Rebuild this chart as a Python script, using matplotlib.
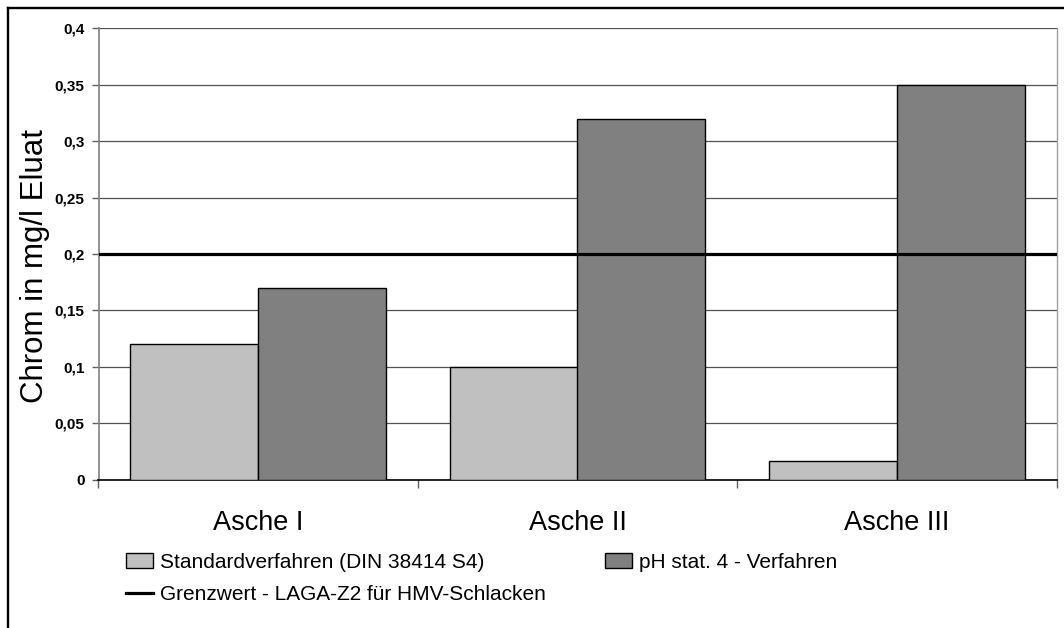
import matplotlib
matplotlib.use("Agg")
import matplotlib.pyplot as plt
from matplotlib.lines import Line2D
import numpy as np

plt.rcParams['font.family'] = ['Liberation Sans', 'DejaVu Sans']

categories = ["Asche I", "Asche II", "Asche III"]
standard = [0.12, 0.10, 0.016]
phstat = [0.17, 0.32, 0.35]
grenzwert = 0.2
yticks = [0, 0.05, 0.1, 0.15, 0.2, 0.25, 0.3, 0.35, 0.4]
ytick_labels = ["0", "0,05", "0,1", "0,15", "0,2", "0,25", "0,3", "0,35", "0,4"]
label_standard = "Standardverfahren (DIN 38414 S4)"
label_ph = "pH stat. 4 - Verfahren"
label_grenz = "Grenzwert - LAGA-Z2 für HMV-Schlacken"
ylabel = "Chrom in mg/l Eluat"

W, H = 1064, 628
fig = plt.figure(figsize=(W / 100, H / 100), dpi=100)
ax = fig.add_axes([98.5 / W, 1 - 479.5 / H, (1056.5 - 98.5) / W, (479.5 - 28.3) / H])

x = np.arange(len(categories))
bw = 0.4
b1 = ax.bar(x - bw / 2, standard, bw, color='#C0C0C0', edgecolor='black', linewidth=1.0, zorder=3,
            label=label_standard)
b2 = ax.bar(x + bw / 2, phstat, bw, color='#808080', edgecolor='black', linewidth=1.0, zorder=3,
            label=label_ph)
gl = ax.axhline(grenzwert, color='black', linewidth=2.3, zorder=4, label=label_grenz)

ax.set_xlim(-0.5, len(categories) - 0.5)
ax.set_ylim(0, 0.4)
ax.set_yticks(yticks)
ax.set_yticklabels(ytick_labels, fontweight='bold', fontsize=11)
ax.yaxis.grid(True, color='#505050', linewidth=0.9, zorder=0)
ax.set_axisbelow(True)

ax.set_xticks(x)
ax.set_xticklabels(categories, fontsize=19.5)
ax.set_xticks(np.arange(-0.5, len(categories)), minor=True)
ax.tick_params(axis='x', which='major', length=0, pad=22)
ax.tick_params(axis='x', which='minor', length=6, width=1, color='#606060')
ax.tick_params(axis='y', length=5, width=1, color='#606060', pad=5)

ax.spines['top'].set_visible(False)
ax.spines['left'].set_color('#808080')
ax.spines['left'].set_linewidth(1.2)
ax.spines['right'].set_color('#a0a0a0')
ax.spines['right'].set_linewidth(1.0)
ax.spines['bottom'].set_color('black')
ax.spines['bottom'].set_linewidth(1.2)

fig.text(35 / W, 1 - 266 / H, ylabel, rotation=90, ha='center', va='center', fontsize=22.5)

fs = 15
px = fs * 100 / 72
leg = fig.legend(handles=[b1, gl, b2], labels=[label_standard, label_grenz, label_ph],
                 ncol=2, loc='upper left', bbox_to_anchor=(126 / W, 1 - 553 / H),
                 frameon=False, fontsize=fs,
                 handlelength=27 / px, handleheight=15 / px,
                 handletextpad=7 / px, columnspacing=59 / px,
                 labelspacing=0.62, borderpad=0, borderaxespad=0)

# outer chart frame (top and left edges visible)
fig.add_artist(Line2D([8 / W, 8 / W], [0, 1 - 8 / H], transform=fig.transFigure,
                      color='black', linewidth=1.7))
fig.add_artist(Line2D([8 / W, 1], [1 - 8 / H, 1 - 8 / H], transform=fig.transFigure,
                      color='black', linewidth=1.7))

fig.savefig("out.png", dpi=100)
